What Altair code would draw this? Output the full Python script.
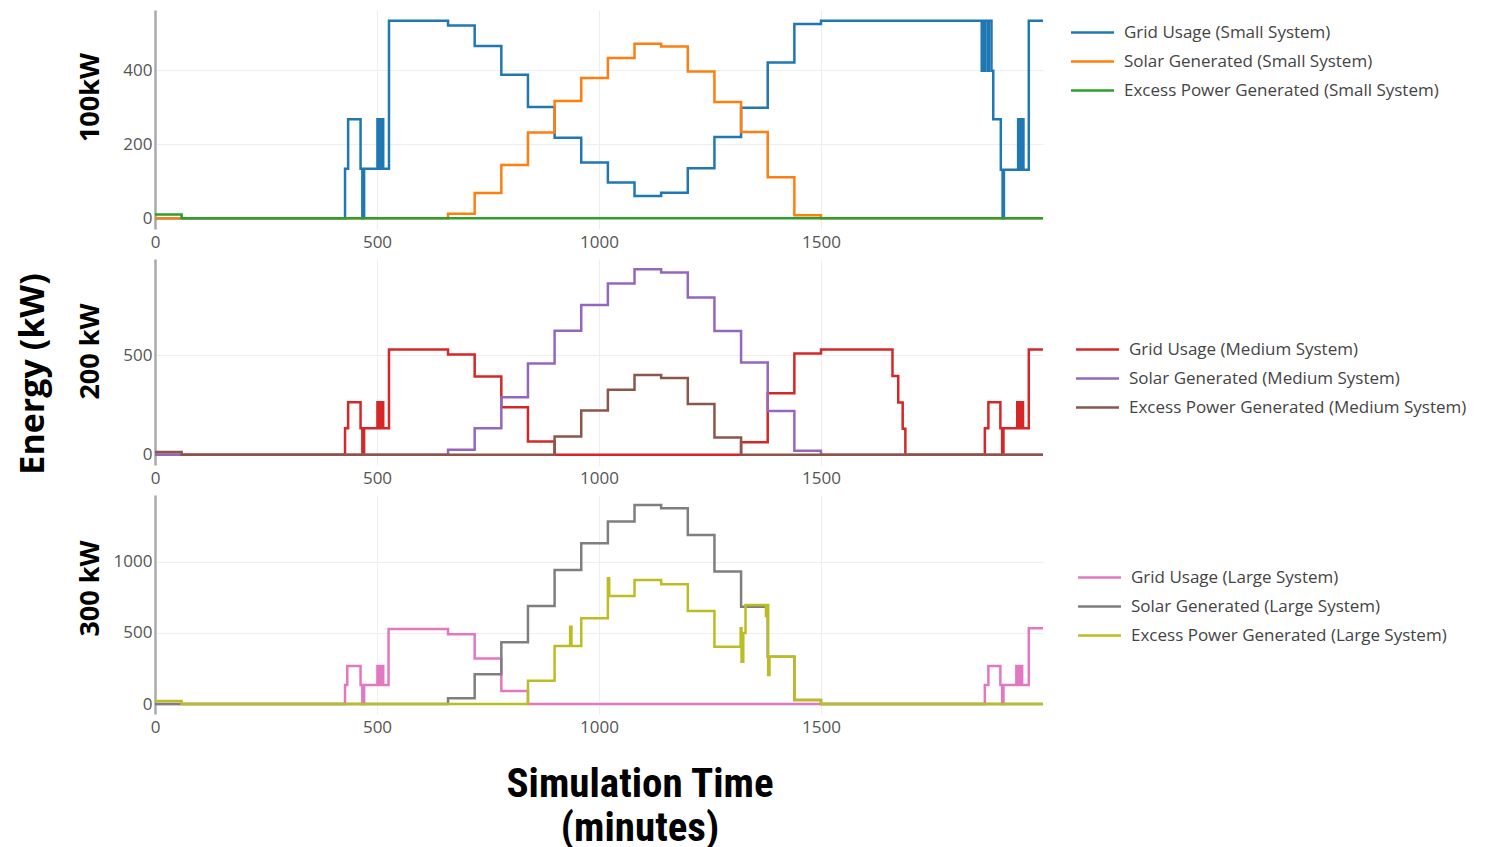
import altair as alt
import pandas as pd

# ---------------- data (minutes, kW) ----------------
X_TICKS = [0, 500, 1000, 1500]

# Small system
small_grid_t = [0, 428, 435, 463, 467, 471, 501, 505, 510, 514, 527, 660, 720, 780, 840, 900, 960,
                1020, 1080, 1140, 1200, 1260, 1320, 1380, 1440, 1500, 1862, 1865, 1867, 1870, 1876, 1878,
                1884, 1888, 1905, 1909, 1912, 1944, 1948, 1952, 1956, 1968, 2000]
small_grid_v = [0, 134, 268, 134, 0, 134, 268, 134, 268, 134, 534, 521, 466, 388, 301, 218, 151,
                97, 60, 69, 135, 220, 299, 421, 525, 534, 399, 534, 399, 534, 399, 534,
                399, 268, 131, 0, 131, 268, 131, 268, 131, 534, 534]
small_solar_t = [0, 660, 720, 780, 840, 900, 960, 1020, 1080, 1140, 1200, 1260, 1320, 1380, 1440, 1500, 2000]
small_solar_v = [0, 12, 68, 144, 232, 317, 379, 433, 472, 464, 397, 314, 233, 111, 8, 0, 0]
small_excess_t = [0, 60, 2000]
small_excess_v = [10, 0, 0]

# Medium system
medium_grid_t = [0, 428, 435, 463, 467, 471, 501, 505, 510, 514, 527, 660, 720, 780, 840, 900,
                 1320, 1380, 1440, 1500, 1661, 1674, 1684, 1690, 1869, 1877, 1904, 1908, 1911,
                 1942, 1946, 1951, 1955, 1968, 2000]
medium_grid_v = [0, 133, 263, 133, 0, 133, 263, 133, 263, 133, 528, 503, 392, 238, 67, 0,
                 63, 308, 508, 528, 395, 262, 130, 0, 133, 263, 133, 0, 133,
                 263, 133, 263, 133, 528, 528]
medium_solar_t = [0, 660, 720, 780, 840, 900, 960, 1020, 1080, 1140, 1200, 1260, 1320, 1380, 1440, 1500, 2000]
medium_solar_v = [0, 25, 133, 288, 458, 622, 750, 858, 930, 913, 788, 620, 462, 220, 20, 0, 0]
medium_excess_t = [0, 60, 900, 960, 1020, 1080, 1140, 1200, 1260, 1320, 2000]
medium_excess_v = [14, 0, 92, 222, 326, 400, 385, 255, 87, 0, 0]

# Large system
large_grid_t = [0, 428, 433, 463, 467, 471, 501, 505, 510, 514, 526, 660, 720, 780, 840,
                1869, 1877, 1904, 1908, 1911, 1940, 1944, 1949, 1953, 1968, 2000]
large_grid_v = [0, 134, 268, 134, 0, 134, 268, 134, 268, 134, 528, 491, 321, 92, 0,
                134, 268, 134, 0, 134, 268, 134, 268, 134, 533, 533]
large_solar_t = [0, 660, 720, 780, 840, 900, 960, 1020, 1080, 1140, 1200, 1260, 1320, 1380, 1440, 1500, 2000]
large_solar_v = [0, 40, 209, 434, 690, 944, 1131, 1284, 1401, 1378, 1190, 932, 685, 333, 28, 0, 0]
large_excess_t = [0, 60, 840, 900, 935, 938, 960, 1020, 1023, 1080, 1140, 1200, 1260, 1319, 1321, 1325,
                  1330, 1376, 1379, 1381, 1384, 1440, 1500, 2000]
large_excess_v = [22, 0, 164, 408, 544, 408, 603, 885, 761, 873, 843, 655, 404, 533, 298, 500,
                  697, 620, 697, 204, 333, 28, 0, 0]

small_names = ["Grid Usage (Small System)", "Solar Generated (Small System)", "Excess Power Generated (Small System)"]
medium_names = ["Grid Usage (Medium System)", "Solar Generated (Medium System)", "Excess Power Generated (Medium System)"]
large_names = ["Grid Usage (Large System)", "Solar Generated (Large System)", "Excess Power Generated (Large System)"]

small_colors = ["#1f77b4", "#ff7f0e", "#2ca02c"]
medium_colors = ["#d62728", "#9467bd", "#8c564b"]
large_colors = ["#e377c2", "#7f7f7f", "#bcbd22"]

panel_titles = ["100kW", "200 kW", "300 kW"]
y_label = "Energy (kW)"
x_label = "Simulation Time\n(minutes)"

FONT = "Open Sans"
W = 888


def panel(series, names, colors, y_domain, y_ticks, y_title, title_y, height, lx, ly, extras=()):
    layers = []
    for (ts, vs), name in zip(series, names):
        df = pd.DataFrame({"t": ts, "v": vs, "s": [name] * len(ts)})
        layers.append(
            alt.Chart(df).mark_line(interpolate="step-after", strokeWidth=2.5).encode(
                x=alt.X("t:Q", scale=alt.Scale(domain=[0, 2000], nice=False, zero=False),
                        axis=alt.Axis(values=X_TICKS, title=None, domain=False, ticks=False, format="d",
                                      labelFlush=False,
                                      grid=True, gridColor="#eeeeee", labelFont=FONT,
                                      labelFontSize=17, labelColor="#555555", labelPadding=5)),
                y=alt.Y("v:Q", scale=alt.Scale(domain=y_domain, nice=False, zero=False),
                        axis=alt.Axis(values=y_ticks, title=y_title, domain=True, domainColor="#aaaaaa",
                                      domainWidth=2.5, ticks=False, grid=True, gridColor="#eeeeee",
                                      format="d", labelFlush=False, labelFont=FONT, labelFontSize=17,
                                      labelColor="#555555",
                                      labelPadding=3, titleFont=FONT, titleFontSize=27,
                                      titleFontWeight="bold", titleColor="black", titleAngle=270,
                                      titleX=-65, titleY=title_y, titleAlign="center",
                                      titleBaseline="middle")),
                color=alt.Color("s:N", scale=alt.Scale(domain=names, range=colors),
                                legend=alt.Legend(title=None, orient="none", legendX=lx, legendY=ly,
                                                  direction="vertical", symbolType="M-2.15,0H2.15",
                                                  symbolSize=400, symbolStrokeWidth=2.5,
                                                  labelFont=FONT, labelFontSize=17, labelColor="#444444",
                                                  labelOffset=20, rowPadding=9, padding=0,
                                                  labelLimit=600)),
            )
        )
    layers.extend(extras)
    return alt.layer(*layers).properties(width=W, height=height)


energy_text = alt.Chart(pd.DataFrame({"label": [y_label]})).mark_text(
    angle=270, fontSize=34, font=FONT, fontWeight="bold", color="black", align="center", baseline="middle"
).encode(text="label:N", x=alt.value(-121), y=alt.value(115))

time_text = alt.Chart(pd.DataFrame({"label": [x_label]})).mark_text(
    fontSize=41, font="Liberation Sans Narrow, Roboto Condensed, Roboto", fontWeight="bold", color="black",
    align="center", baseline="alphabetic", lineBreak="\n", lineHeight=44
).encode(text="label:N", x=alt.value(485), y=alt.value(302))

top = panel([(small_grid_t, small_grid_v), (small_solar_t, small_solar_v), (small_excess_t, small_excess_v)],
            small_names, small_colors, [-29, 563], [0, 200, 400], panel_titles[0], 87, 219, 926, 11)
mid = panel([(medium_grid_t, medium_grid_v), (medium_solar_t, medium_solar_v), (medium_excess_t, medium_excess_v)],
            medium_names, medium_colors, [-51, 981], [0, 500], panel_titles[1], 92, 206, 931, 79,
            extras=[energy_text])
bot = panel([(large_grid_t, large_grid_v), (large_solar_t, large_solar_v), (large_excess_t, large_excess_v)],
            large_names, large_colors, [-70, 1471], [0, 500, 1000], panel_titles[2], 93, 219, 933, 71,
            extras=[time_text])

chart = alt.vconcat(top, mid, bot, spacing=30, bounds="flush").resolve_scale(
    color="independent", x="independent", y="independent"
).properties(
    padding={"left": 8, "top": 2, "right": 2, "bottom": 0}
).configure_view(stroke=None)

chart.save("out.html", embed_options={"renderer": "svg", "actions": False})
